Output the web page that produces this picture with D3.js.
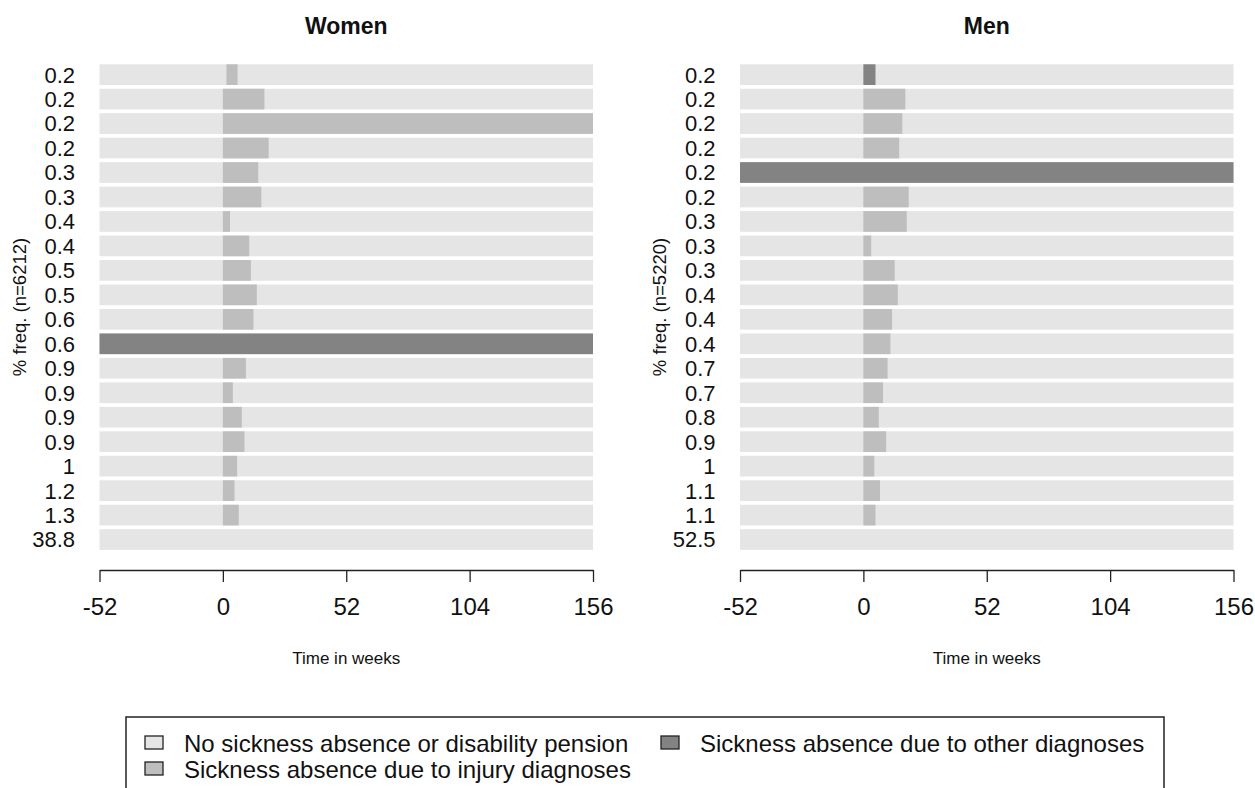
<!DOCTYPE html>
<html>
<head>
<meta charset="utf-8">
<script src="https://cdn.jsdelivr.net/npm/d3@7"></script>
<style>
  body { margin: 0; background: #fff; }
  svg { font-family: "Liberation Sans", Arial, sans-serif; }
</style>
</head>
<body>
<div id="chart"></div>
<script>
// states: 0 = no absence, 1 = injury diagnoses, 2 = other diagnoses
var weekTicks = [-52, 0, 52, 104, 156];

// Women, one row per sequence (top to bottom)
var womenFreq  = [0.2, 0.2, 0.2, 0.2, 0.3, 0.3, 0.4, 0.4, 0.5, 0.5, 0.6, 0.6, 0.9, 0.9, 0.9, 0.9, 1, 1.2, 1.3, 38.8];
var womenState = [1, 1, 1, 1, 1, 1, 1, 1, 1, 1, 1, 2, 1, 1, 1, 1, 1, 1, 1, 0];
var womenStart = [1.5, 0, 0, 0, 0, 0, 0, 0, 0, 0, 0, -52, 0, 0, 0, 0, 0, 0, 0, 0];
var womenEnd   = [6.2, 17.5, 156, 19.3, 14.9, 16.2, 3, 11.1, 11.8, 14.3, 12.9, 156, 9.7, 4.2, 8, 9.1, 6, 4.9, 6.7, 0];

// Men
var menFreq  = [0.2, 0.2, 0.2, 0.2, 0.2, 0.2, 0.3, 0.3, 0.3, 0.4, 0.4, 0.4, 0.7, 0.7, 0.8, 0.9, 1, 1.1, 1.1, 52.5];
var menState = [2, 1, 1, 1, 2, 1, 1, 1, 1, 1, 1, 1, 1, 1, 1, 1, 1, 1, 1, 0];
var menStart = [0, 0, 0, 0, -52, 0, 0, 0, 0, 0, 0, 0, 0, 0, 0, 0, 0, 0, 0, 0];
var menEnd   = [5.1, 17.7, 16.4, 15.1, 156, 19.1, 18.3, 3.3, 13.2, 14.5, 12.1, 11.4, 10.2, 8.3, 6.5, 9.6, 4.6, 7, 5.1, 0];

var legendLabels = ["No sickness absence or disability pension",
                    "Sickness absence due to injury diagnoses",
                    "Sickness absence due to other diagnoses"];
var stateColors = ["#e5e5e5", "#bebebe", "#838383"];

var W = 1255, H = 788;
var svg = d3.select("#chart").append("svg")
  .attr("width", W).attr("height", H);

function drawPanel(x0, title, n, freq, state, start, end) {
  var x = d3.scaleLinear().domain([-52, 156]).range([x0, x0 + 493.5]);
  var rows = d3.range(freq.length);
  var y = d3.scaleBand().domain(rows).range([62.4, 551.8])
    .paddingInner(0.154).paddingOuter(0.077);

  var g = svg.append("g");

  // background: whole span in state 0
  g.selectAll(".bg")
    .data(rows)
    .enter()
    .append("rect")
      .attr("x", x(-52))
      .attr("y", function(d){ return y(d) })
      .attr("width", x(156) - x(-52))
      .attr("height", y.bandwidth())
      .style("fill", stateColors[0]);

  // episodes
  g.selectAll(".ep")
    .data(rows.filter(function(d){ return state[d] > 0 }))
    .enter()
    .append("rect")
      .attr("x", function(d){ return x(start[d]) })
      .attr("y", function(d){ return y(d) })
      .attr("width", function(d){ return x(end[d]) - x(start[d]) })
      .attr("height", y.bandwidth())
      .style("fill", function(d){ return stateColors[state[d]] });

  // row labels = % frequency
  g.selectAll(".lab")
    .data(rows)
    .enter()
    .append("text")
      .attr("x", x0 - 24.5)
      .attr("y", function(d){ return y(d) + y.bandwidth() / 2 })
      .attr("dy", "0.36em")
      .attr("text-anchor", "end")
      .style("font-size", "22px")
      .style("fill", "#111")
      .text(function(d){ return freq[d] });

  // x axis (plain hyphen for negatives, like the original)
  var ax = g.append("g")
    .attr("transform", "translate(0,570)")
    .call(d3.axisBottom(x).tickValues(weekTicks).tickSize(12).tickSizeOuter(0)
      .tickFormat(function(d){ return String(d) }));
  ax.select(".domain").attr("stroke", "#222").attr("stroke-width", 1.3);
  ax.selectAll(".tick line").attr("stroke", "#222").attr("stroke-width", 1.3);
  ax.selectAll(".tick text")
    .attr("y", 28)
    .style("font-size", "24px")
    .style("fill", "#111")
    .style("font-family", "Liberation Sans, Arial, sans-serif");

  g.append("text")
    .attr("x", x(52)).attr("y", 664)
    .attr("text-anchor", "middle")
    .style("font-size", "17px")
    .style("fill", "#111")
    .text("Time in weeks");

  g.append("text")
    .attr("x", x(52)).attr("y", 34)
    .attr("text-anchor", "middle")
    .style("font-size", "23px")
    .style("font-weight", "bold")
    .style("fill", "#111")
    .text(title);

  g.append("text")
    .attr("transform", "translate(" + (x0 - 74) + ",307) rotate(-90)")
    .attr("text-anchor", "middle")
    .style("font-size", "18.5px")
    .style("fill", "#111")
    .text("% freq. (n=" + n + ")");
}

drawPanel(99.5, "Women", 6212, womenFreq, womenState, womenStart, womenEnd);
drawPanel(740, "Men", 5220, menFreq, menState, menStart, menEnd);

// legend box (bottom edge falls outside the picture)
svg.append("rect")
  .attr("x", 126).attr("y", 717)
  .attr("width", 1038).attr("height", 100)
  .style("fill", "none")
  .style("stroke", "#222")
  .style("stroke-width", 1.5);

var legPos = [[145, 736], [145, 762], [661, 736]];
var leg = svg.selectAll(".leg")
  .data(legendLabels)
  .enter()
  .append("g")
    .attr("transform", function(d, i){ return "translate(" + legPos[i][0] + "," + legPos[i][1] + ")" });

leg.append("rect")
  .attr("width", 18).attr("height", 13)
  .style("fill", function(d, i){ return stateColors[i] })
  .style("stroke", "#222")
  .style("stroke-width", 1.3);

leg.append("text")
  .attr("x", 39).attr("y", 7)
  .attr("dy", "0.36em")
  .style("font-size", "24px")
  .style("fill", "#111")
  .text(function(d){ return d });
</script>
</body>
</html>
